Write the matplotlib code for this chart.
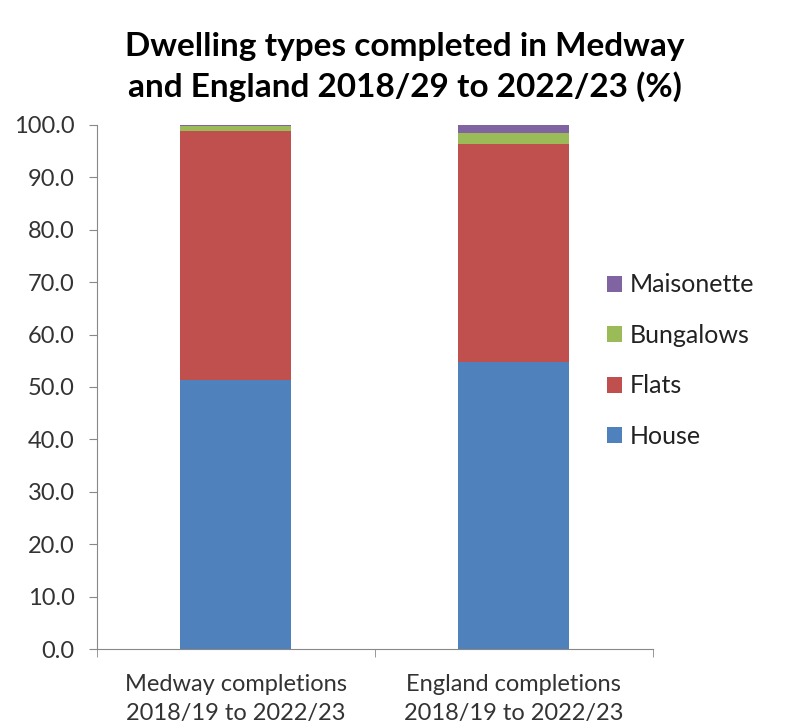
import matplotlib.pyplot as plt
import numpy as np

plt.rcParams['font.family'] = ['Lato', 'DejaVu Sans']

# ====== Dados ================================================================

areas = ["Medway completions\n2018/19 to 2022/23",
         "England completions\n2018/19 to 2022/23"]
house       = [51.3, 54.8]
flats       = [47.5, 41.5]
bungalows   = [0.9, 2.2]
maisonette  = [0.3, 1.5]

series = [
    ("House", house, "#4F81BD"),
    ("Flats", flats, "#C0504D"),
    ("Bungalows", bungalows, "#9BBB59"),
    ("Maisonette", maisonette, "#8064A2"),
]

# ====== Grafico ==============================================================

fig = plt.figure(figsize=(7.95, 7.26), dpi=100)
ax = fig.add_axes([0.122, 0.106, 0.699, 0.722])

x = np.arange(len(areas))
bottom = np.zeros(len(areas))
for name, vals, color in series:
    ax.bar(x, vals, width=0.4, bottom=bottom, color=color, label=name)
    bottom += np.array(vals)

ax.set_xlim(-0.5, 1.5)
ax.set_ylim(0, 100)
ax.set_yticks(np.arange(0, 101, 10))
ax.set_yticklabels([f"{v:.1f}" for v in np.arange(0, 101, 10)],
                   fontsize=17, color="#333333")
ax.set_xticks(x)
ax.set_xticklabels(areas, fontsize=17, color="#333333", linespacing=1.45)
ax.set_xticks([-0.5, 0.5, 1.5], minor=True)
ax.tick_params(axis="x", which="major", length=0, pad=18)
ax.tick_params(axis="x", which="minor", length=6, color="#888888")
ax.tick_params(axis="y", length=6, color="#888888", pad=10)

for side in ["top", "right"]:
    ax.spines[side].set_visible(False)
for side in ["left", "bottom"]:
    ax.spines[side].set_color("#888888")

ax.set_title("Dwelling types completed in Medway\nand England 2018/29 to 2022/23 (%)",
             fontsize=24, fontweight="bold", pad=20, linespacing=1.4, x=0.554)

handles, labels = ax.get_legend_handles_labels()
ax.legend(handles[::-1], labels[::-1], loc="center left",
          bbox_to_anchor=(0.9, 0.55), frameon=False, fontsize=18,
          borderaxespad=0, handlelength=0.6, handleheight=0.6,
          handletextpad=0.3, labelspacing=1.1, labelcolor="#222222")

plt.savefig("out.png", dpi=100)
plt.close()
